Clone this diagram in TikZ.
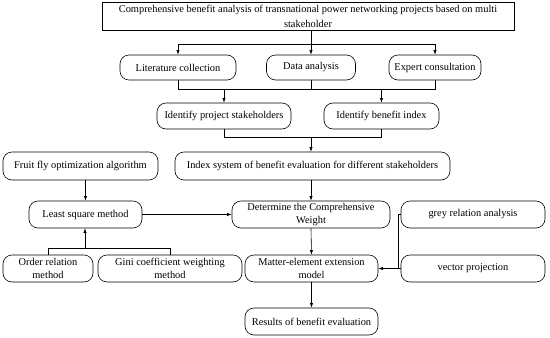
\documentclass[tikz,border=0pt]{standalone}
\usepackage{fontspec}
\setmainfont{Liberation Serif}
\usetikzlibrary{arrows.meta}
\begin{document}
\begin{tikzpicture}[x=1pt,y=-1pt,
  box/.style={draw,line width=0.6pt,rounded corners=9pt,align=center,inner sep=1pt,
    font=\fontsize{10.4}{13}\selectfont},
  sqbox/.style={draw,line width=0.6pt,align=center,inner sep=1pt,
    font=\fontsize{10.4}{15}\selectfont},
  conn/.style={line width=0.6pt},
  arr/.style={line width=0.6pt,-{Latex[length=4.5pt,width=3.2pt]}}]
\useasboundingbox (0,0) rectangle (550,338);
\node[sqbox,minimum width=412pt,minimum height=28pt] (top) at (308,16) {Comprehensive benefit analysis of transnational power networking projects based on multi\\stakeholder};
\node[box,minimum width=116pt,minimum height=25pt] (lit) at (178,67.5) {Literature collection};
\node[box,minimum width=89pt,minimum height=25pt] (data) at (311,67.5) {Data analysis};
\node[box,minimum width=92pt,minimum height=25pt] (exp) at (435,67.5) {Expert consultation};
\node[box,minimum width=134pt,minimum height=26pt] (ips) at (224,116) {Identify project stakeholders};
\node[box,minimum width=115pt,minimum height=26pt] (ibi) at (381.5,116) {Identify benefit index};
\node[box,minimum width=275pt,minimum height=28pt] (idx) at (312.5,166) {Index system of benefit evaluation for different stakeholders};
\node[box,minimum width=155pt,minimum height=28pt] (fruit) at (80.5,166) {Fruit fly optimization algorithm};
\node[box,minimum width=113pt,minimum height=27pt] (lsm) at (85.5,214.5) {Least square method};
\node[box,minimum width=158pt,minimum height=27pt] (det) at (311,214.5) {Determine the Comprehensive\\Weight};
\node[box,minimum width=144pt,minimum height=27pt] (grey) at (473,214.5) {grey relation analysis};
\node[box,minimum width=133pt,minimum height=27pt] (mat) at (311.5,268.5) {Matter-element extension\\model};
\node[box,minimum width=144pt,minimum height=27pt] (vec) at (473,268.5) {vector projection};
\node[box,minimum width=90pt,minimum height=27pt] (ord) at (48,268.5) {Order relation\\method};
\node[box,minimum width=144pt,minimum height=27pt] (gini) at (170,268.5) {Gini coefficient weighting\\method};
\node[box,minimum width=133pt,minimum height=27pt] (res) at (311.5,321.5) {Results of benefit evaluation};
% junction coordinates
\coordinate (j1) at (311,44);
\coordinate (j2) at (311,89);
\coordinate (j3) at (311,137);
\coordinate (j4) at (85,248);
\coordinate (j5) at (398,214.5);
% top to three
\draw[arr] (top.south -| data.north) -- (data.north);
\draw[conn] (j1 -| lit.north) -- (j1 -| exp.north);
\draw[arr] (j1 -| lit.north) -- (lit.north);
\draw[arr] (j1 -| exp.north) -- (exp.north);
% three to identify
\draw[conn] (lit.south) -- (j2 -| lit.south) -- (j2 -| exp.south) -- (exp.south);
\draw[conn] (data.south) -- (j2 -| data.south);
\draw[arr] (j2 -| ips.north) -- (ips.north);
\draw[arr] (j2 -| ibi.north) -- (ibi.north);
% identify to index
\draw[conn] (ips.south) -- (j3 -| ips.south) -- (j3 -| ibi.south) -- (ibi.south);
\draw[arr] (j3) -- (j3 |- idx.north);
\draw[arr] (idx.south -| det.north) -- (det.north);
% left part
\draw[arr] (fruit.south -| lsm.north) -- (lsm.north);
\draw[arr] (lsm.east) -- (det.west);
\draw[conn] (ord.north) -- (j4 -| ord.north) -- (j4 -| gini.north) -- (gini.north);
\draw[arr] (j4) -- (lsm.south -| j4);
% right part
\draw[arr] (det.south) -- (mat.north);
\draw[conn] (grey.west) -- (j5) -- (j5 |- mat.east);
\draw[arr] (vec.west) -- (mat.east);
\draw[arr] (mat.south) -- (res.north);
\end{tikzpicture}
\end{document}
